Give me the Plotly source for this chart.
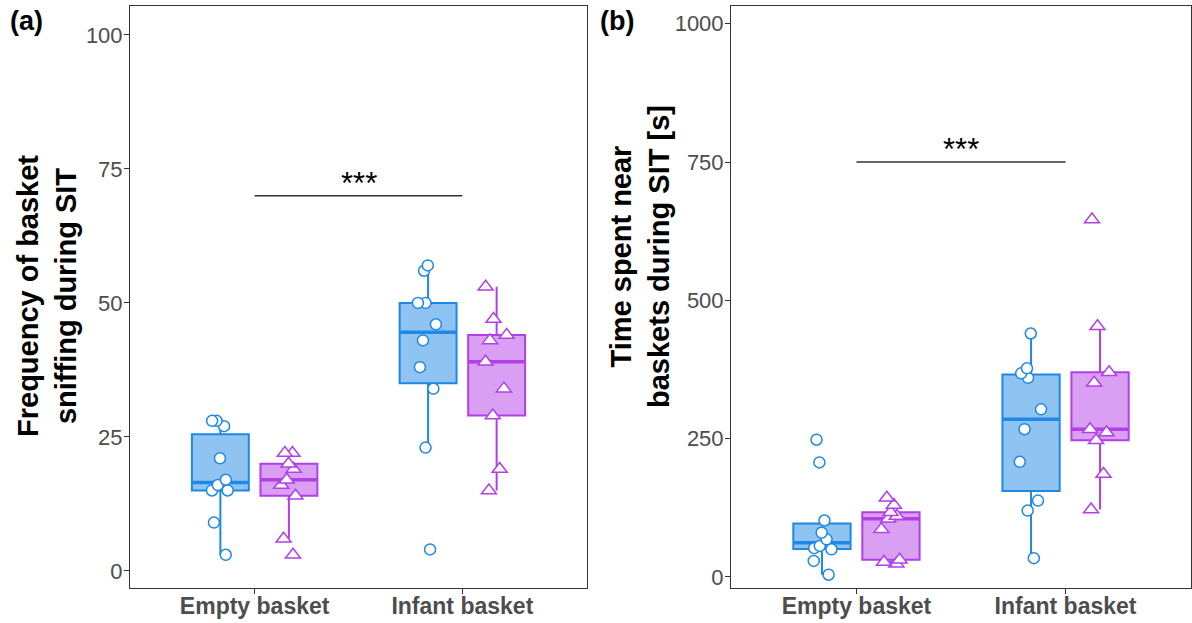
import numpy as np
import plotly.graph_objects as go

# ---------------- data ----------------
categories = ["Empty basket", "Infant basket"]

# Panel (a): frequency of basket sniffing during SIT
a_blue_empty = [28, 28, 27, 21, 17, 16, 15, 15, 9, 3]
a_blue_infant = [57, 56, 50, 50, 46, 43, 38, 34, 23, 4]
a_purple_empty = [22, 22, 20, 19, 17, 16, 14, 6, 3]
a_purple_infant = [53, 47, 44, 43, 39, 34, 29, 19, 15]

# Panel (b): time spent near baskets during SIT [s]
b_blue_empty = [248, 207, 102, 80, 68, 56, 52, 50, 29, 4]
b_blue_infant = [440, 377, 368, 360, 303, 267, 208, 138, 120, 34]
b_purple_empty = [143, 130, 117, 110, 105, 86, 31, 27, 24]
b_purple_infant = [646, 453, 370, 351, 267, 261, 247, 186, 122]

a_ticks = [0, 25, 50, 75, 100]
b_ticks = [0, 250, 500, 750, 1000]
sig_y = [70, 750]
sig_label = "***"

# ---------------- style ----------------
BLUE = "#1E88E5"
BLUE_FILL = "rgba(30,136,229,0.5)"
PURPLE = "#B23FE8"
PURPLE_FILL = "rgba(178,63,232,0.5)"
AXIS_COL = "#333333"
TICK_TXT = "#4D4D4D"
FONT = "Liberation Sans, Arial, sans-serif"

W, H = 1192, 623


def box_stats(vals):
    v = np.asarray(vals, dtype=float)
    q1, med, q3 = np.percentile(v, [25, 50, 75])
    iqr = q3 - q1
    lf = v[v >= q1 - 1.5 * iqr].min()
    uf = v[v <= q3 + 1.5 * iqr].max()
    return q1, med, q3, lf, uf


fig = go.Figure()


def add_series(series, color, fill, symbol, msize, xa, ya, group):
    st = [box_stats(s) for s in series]
    med = [s[1] for s in st]
    # box + whiskers (ggplot-style quantiles)
    fig.add_trace(go.Box(
        x=categories,
        q1=[s[0] for s in st], median=med, q3=[s[2] for s in st],
        lowerfence=[s[3] for s in st], upperfence=[s[4] for s in st],
        fillcolor=fill, line=dict(color=color, width=2), whiskerwidth=0,
        boxpoints=False, offsetgroup=group, xaxis=xa, yaxis=ya,
        showlegend=False, hoverinfo="skip",
    ))
    # thicker median bar
    fig.add_trace(go.Box(
        x=categories, q1=med, median=med, q3=med, lowerfence=med, upperfence=med,
        fillcolor="rgba(0,0,0,0)", line=dict(color=color, width=3.5), whiskerwidth=0,
        boxpoints=False, offsetgroup=group, xaxis=xa, yaxis=ya,
        showlegend=False, hoverinfo="skip",
    ))
    # jittered raw points
    xs = [c for c, s in zip(categories, series) for _ in s]
    ys = [v for s in series for v in s]
    fig.add_trace(go.Box(
        x=xs, y=ys, boxpoints="all", jitter=0.45, pointpos=0,
        fillcolor="rgba(0,0,0,0)", line=dict(color="rgba(0,0,0,0)", width=0),
        whiskerwidth=0,
        marker=dict(symbol=symbol, size=msize, color="white",
                    line=dict(color=color, width=1.5)),
        offsetgroup=group, xaxis=xa, yaxis=ya, showlegend=False,
    ))


add_series([a_blue_empty, a_blue_infant], BLUE, BLUE_FILL, "circle", 11, "x", "y", "blue")
add_series([a_purple_empty, a_purple_infant], PURPLE, PURPLE_FILL, "triangle-up", 13, "x", "y", "purple")
add_series([b_blue_empty, b_blue_infant], BLUE, BLUE_FILL, "circle", 11, "x2", "y2", "blue")
add_series([b_purple_empty, b_purple_infant], PURPLE, PURPLE_FILL, "triangle-up", 13, "x2", "y2", "purple")

# plot-area geometry (pixels)
top_px, bot_px = 6, 588
ydom = [(H - bot_px) / H, (H - top_px) / H]
xdom_a = [130 / W, 587 / W]
xdom_b = [731 / W, 1191 / W]

xcommon = dict(type="category", categoryorder="array", categoryarray=categories,
               range=[-0.6, 1.6], showline=True, mirror=True, linecolor=AXIS_COL,
               linewidth=1, ticks="outside", ticklen=5, tickcolor=AXIS_COL,
               tickfont=dict(family=FONT, size=23, color=TICK_TXT, weight="bold"),
               ticklabelstandoff=-8, automargin=False,
               showgrid=False, zeroline=False)
ycommon = dict(showline=True, mirror=True, linecolor=AXIS_COL, linewidth=1,
               ticks="outside", ticklen=5, tickcolor=AXIS_COL,
               tickfont=dict(family=FONT, size=22, color=TICK_TXT),
               ticklabelstandoff=-3, automargin=False,
               showgrid=False, zeroline=False)

fig.update_layout(
    width=W, height=H, margin=dict(l=0, r=0, t=0, b=0),
    paper_bgcolor="white", plot_bgcolor="white",
    boxmode="group", boxgap=0.34, boxgroupgap=0.17,
    font=dict(family=FONT),
    xaxis=dict(domain=xdom_a, anchor="y", **xcommon),
    xaxis2=dict(domain=xdom_b, anchor="y2", **xcommon),
    yaxis=dict(domain=ydom, anchor="x", range=[-3.2, 105.4], tickvals=a_ticks, **ycommon),
    yaxis2=dict(domain=ydom, anchor="x2", range=[-20, 1032], tickvals=b_ticks, **ycommon),
)

# significance bars
for xa, ya, yv in [("x", "y", sig_y[0]), ("x2", "y2", sig_y[1])]:
    fig.add_shape(type="line", xref=xa, yref=ya, x0=0, x1=1, y0=yv, y1=yv,
                  line=dict(color=AXIS_COL, width=1.5))
    fig.add_annotation(xref=xa, yref=ya, x=0.5, y=yv, text=sig_label, showarrow=False,
                       yanchor="bottom", yshift=-7,
                       font=dict(family=FONT, size=31, color="black"))

# y-axis titles
fig.add_annotation(xref="paper", yref="paper", x=47 / W, y=(H - 296) / H,
                   xanchor="center", yanchor="middle",
                   text="<b>Frequency of basket<br>sniffing during SIT</b>",
                   textangle=-90, showarrow=False,
                   font=dict(family=FONT, size=29, color="black"))
fig.add_annotation(xref="paper", yref="paper", x=640 / W, y=(H - 257) / H,
                   xanchor="center", yanchor="middle",
                   text="<b>Time spent near<br>baskets during SIT [s]</b>",
                   textangle=-90, showarrow=False,
                   font=dict(family=FONT, size=29, color="black"))

# panel letters
fig.add_annotation(xref="paper", yref="paper", x=8 / W, y=(H - 21) / H,
                   xanchor="left", yanchor="middle", text="<b>(a)</b>", showarrow=False,
                   font=dict(family=FONT, size=27, color="black"))
fig.add_annotation(xref="paper", yref="paper", x=598 / W, y=(H - 21) / H,
                   xanchor="left", yanchor="middle", text="<b>(b)</b>", showarrow=False,
                   font=dict(family=FONT, size=27, color="black"))

fig.write_html("out.html")
